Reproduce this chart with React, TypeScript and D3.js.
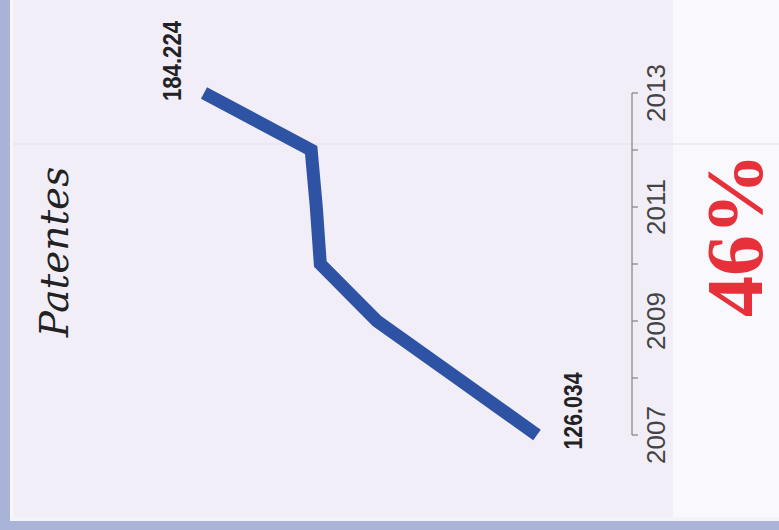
import React from "react";
import * as d3 from "d3";

const years = [2007, 2008, 2009, 2010, 2011, 2012, 2013];
const patents = [126.034, 140.0, 154.0, 163.9, 164.6, 165.5, 184.224];
const tickLabels = [2007, 2009, 2011, 2013];
const title = "Patentes";
const growth = "46%";

const W = 779;
const H = 530;

export default function App() {
  const yearScale = d3.scaleLinear().domain([2007, 2013]).range([435, 93]);
  const valueScale = d3.scaleLinear().domain([126.034, 184.224]).range([537, 204]);
  const pts = years.map((y, i) => ({ year: y, v: patents[i] }));
  const line = d3
    .line<{ year: number; v: number }>()
    .x((d) => valueScale(d.v))
    .y((d) => yearScale(d.year));

  const axisX = 632;
  const fmt = (v: number) => v.toFixed(3);
  const first = pts[0];
  const last = pts[pts.length - 1];

  return (
    <svg
      width={W}
      height={H}
      style={{ position: "absolute", left: 0, top: 0 }}
      xmlns="http://www.w3.org/2000/svg"
    >
      <rect x={0} y={0} width={W} height={H} fill="#f1eef8" />
      <rect x={673} y={0} width={W - 673} height={H} fill="#f9f8fc" />
      <line x1={13} x2={W} y1={144} y2={144} stroke="#e4e0ec" strokeWidth={1} />
      <rect x={0} y={0} width={10} height={H} fill="#a8b3d7" />
      <rect x={10} y={0} width={3} height={H} fill="#f7f6fb" />
      <rect x={10} y={517} width={W} height={4} fill="#f3f3fa" />
      <rect x={0} y={521} width={W} height={H - 521} fill="#a9b4d8" />

      {/* axis */}
      <line
        x1={axisX}
        x2={axisX}
        y1={yearScale(2013)}
        y2={yearScale(2007)}
        stroke="#8a8a8a"
        strokeWidth={1.3}
      />
      {years.map((y) => (
        <line
          key={y}
          x1={axisX}
          x2={axisX + 6}
          y1={yearScale(y)}
          y2={yearScale(y)}
          stroke="#8a8a8a"
          strokeWidth={1.3}
        />
      ))}
      {tickLabels.map((y) => (
        <text
          key={y}
          transform={`translate(${665},${yearScale(y)}) rotate(-90)`}
          textAnchor="middle"
          fontFamily="'Liberation Sans', Arial, sans-serif"
          fontSize={26}
          fill="#444"
        >
          {y}
        </text>
      ))}

      {/* line */}
      <path
        d={line(pts) || ""}
        fill="none"
        stroke="#2f53a4"
        strokeWidth={13}
        strokeLinejoin="miter"
        strokeLinecap="butt"
      />

      {/* data labels */}
      <text
        transform={`translate(${valueScale(first.v) + 45},${yearScale(first.year) - 24}) rotate(-90)`}
        textAnchor="middle"
        fontFamily="'Liberation Sans Narrow', 'Liberation Sans', Arial, sans-serif"
        fontWeight="bold"
        fontSize={26}
        textLength={77}
        lengthAdjust="spacingAndGlyphs"
        fill="#222"
      >
        {fmt(first.v)}
      </text>
      <text
        transform={`translate(${valueScale(last.v) - 23},${yearScale(last.year) - 32}) rotate(-90)`}
        textAnchor="middle"
        fontFamily="'Liberation Sans Narrow', 'Liberation Sans', Arial, sans-serif"
        fontWeight="bold"
        fontSize={26}
        textLength={80}
        lengthAdjust="spacingAndGlyphs"
        fill="#222"
      >
        {fmt(last.v)}
      </text>

      {/* title */}
      <text
        transform="translate(68,252) rotate(-90)"
        textAnchor="middle"
        fontFamily="'DejaVu Serif', serif"
        fontStyle="italic"
        fontSize={39}
        fill="#222"
      >
        {title}
      </text>

      {/* growth */}
      <text
        transform="translate(762,235) rotate(-90)"
        textAnchor="middle"
        fontFamily="'Liberation Serif', 'Times New Roman', serif"
        fontWeight="bold"
        fontSize={80}
        textLength={164}
        lengthAdjust="spacingAndGlyphs"
        fill="#e6303a"
      >
        {growth}
      </text>
    </svg>
  );
}
